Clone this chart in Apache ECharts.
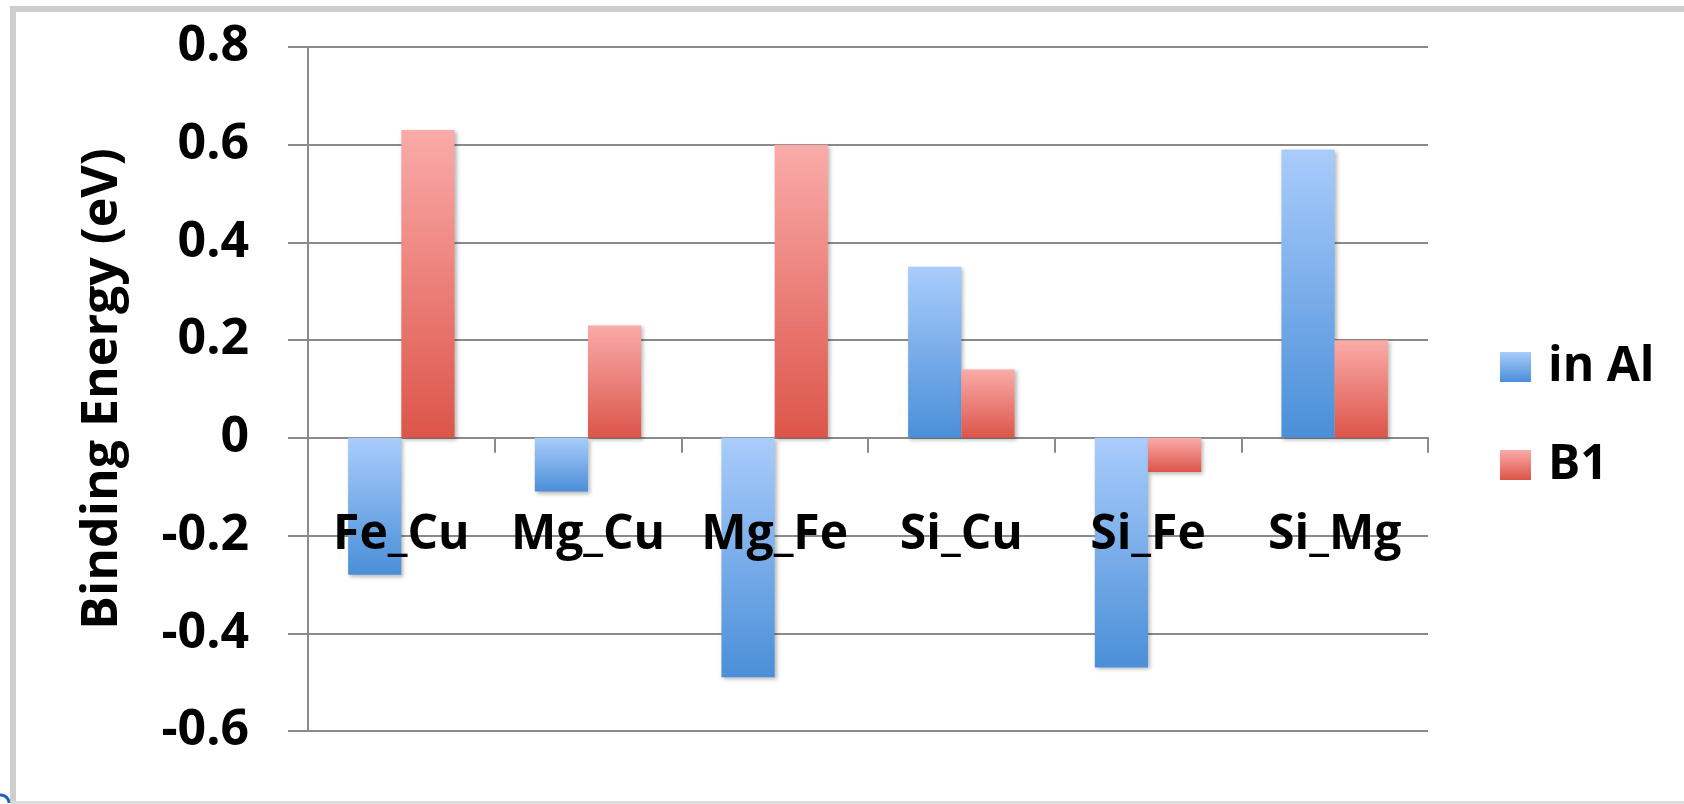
<!DOCTYPE html>
<html>
<head>
<meta charset="utf-8">
<script src="https://cdn.jsdelivr.net/npm/echarts@6/dist/echarts.min.js"></script>
<style>
  html, body { margin: 0; padding: 0; background: #ffffff; }
  #chart { width: 1684px; height: 804px; }
</style>
</head>
<body>
<div id="chart"></div>
<script>
// Solute pairs and their binding energies (eV)
const pairs = ['Fe_Cu', 'Mg_Cu', 'Mg_Fe', 'Si_Cu', 'Si_Fe', 'Si_Mg'];
const inAl = [-0.28, -0.11, -0.49, 0.35, -0.47, 0.59];
const b1 = [0.63, 0.23, 0.60, 0.14, -0.07, 0.20];
const seriesNames = ['in Al', 'B1'];
const yTicks = { min: -0.6, max: 0.8, step: 0.2 };

const FONT = '"Open Sans", "DejaVu Sans", sans-serif';
const GRID = { left: 308, right: 256, top: 47, bottom: 73 };
const CHART_H = 804;

function vgrad(top, bottom) {
  return new echarts.graphic.LinearGradient(0, 0, 0, 1, [
    { offset: 0, color: top },
    { offset: 1, color: bottom }
  ]);
}

const barShadow = {
  shadowColor: 'rgba(0,0,0,0.28)',
  shadowBlur: 4,
  shadowOffsetX: 2,
  shadowOffsetY: 2
};

// vertical pixel offset from the plot bottom up to the zero line,
// so the category labels can sit just under the zero axis
const plotH = CHART_H - GRID.top - GRID.bottom;
const zeroFromBottom = plotH * (0 - yTicks.min) / (yTicks.max - yTicks.min);

const chart = echarts.init(document.getElementById('chart'), null, { renderer: 'canvas' });

chart.setOption({
  backgroundColor: '#ffffff',
  animation: false,
  grid: Object.assign({ containLabel: false, outerBoundsMode: 'none' }, GRID),
  legend: {
    orient: 'vertical',
    left: 1495,
    top: 338,
    itemWidth: 31,
    itemHeight: 30,
    itemGap: 50,
    icon: 'rect',
    textStyle: {
      fontFamily: FONT, fontWeight: 'bold', fontSize: 48, color: '#000',
      lineHeight: 48, padding: [0, 0, 0, 12]
    },
    itemStyle: { shadowBlur: 0, shadowOffsetX: 0, shadowOffsetY: 0 },
    data: seriesNames
  },
  xAxis: [
    {
      // zero line with tick marks between categories
      type: 'category',
      data: pairs,
      axisLine: { show: true, onZero: true, lineStyle: { color: '#8a8a8a', width: 2 } },
      axisTick: { show: true, interval: 0, length: 15, lineStyle: { color: '#8a8a8a', width: 2 } },
      axisLabel: { show: false },
      splitLine: { show: false }
    },
    {
      // category names, drawn above the bars
      type: 'category',
      data: pairs,
      position: 'bottom',
      offset: -zeroFromBottom,
      z: 10,
      axisLine: { show: false, onZero: false },
      axisTick: { show: false },
      axisLabel: {
        interval: 0,
        margin: 73,
        fontFamily: FONT,
        fontWeight: 'bold',
        fontSize: 48,
        color: '#000'
      },
      splitLine: { show: false }
    }
  ],
  yAxis: {
    type: 'value',
    min: yTicks.min,
    max: yTicks.max,
    interval: yTicks.step,
    name: 'Binding Energy (eV)',
    nameLocation: 'middle',
    nameGap: 180,
    nameRotate: 90,
    nameTextStyle: { fontFamily: FONT, fontWeight: 'bold', fontSize: 50, color: '#000' },
    axisLine: { show: true, lineStyle: { color: '#8a8a8a', width: 2 } },
    axisTick: { show: true, length: 20, lineStyle: { color: '#8a8a8a', width: 2 } },
    axisLabel: {
      margin: 59,
      fontFamily: FONT,
      fontWeight: 'bold',
      fontSize: 50,
      color: '#000',
      formatter: v => {
        const r = Math.round(v * 10) / 10;
        return r === 0 ? '0' : r.toFixed(1);
      }
    },
    splitLine: { show: true, lineStyle: { color: '#8a8a8a', width: 2 } }
  },
  series: [
    {
      name: seriesNames[0],
      type: 'bar',
      xAxisIndex: 0,
      data: inAl,
      barGap: '0%',
      barCategoryGap: '43%',
      itemStyle: Object.assign({ color: vgrad('#a9ccfb', '#4a8fd8') }, barShadow)
    },
    {
      name: seriesNames[1],
      type: 'bar',
      xAxisIndex: 0,
      data: b1,
      barGap: '0%',
      barCategoryGap: '43%',
      itemStyle: Object.assign({ color: vgrad('#faaba9', '#dc5549') }, barShadow)
    }
  ],
  graphic: [
    // light grey frame around the chart area
    { type: 'rect', shape: { x: 10, y: 6, width: 1674, height: 6 }, style: { fill: '#cecece' }, silent: true },
    { type: 'rect', shape: { x: 10, y: 6, width: 6, height: 798 }, style: { fill: '#cecece' }, silent: true },
    { type: 'rect', shape: { x: 10, y: 801, width: 1674, height: 3 }, style: { fill: '#dcdcdc' }, silent: true },
    // small blue mark in the lower-left corner
    { type: 'arc', shape: { cx: 1, cy: 803, r: 8, startAngle: Math.PI, endAngle: 2 * Math.PI, clockwise: true },
      style: { stroke: '#1f62b8', lineWidth: 3, fill: null }, silent: true }
  ]
});
</script>
</body>
</html>
